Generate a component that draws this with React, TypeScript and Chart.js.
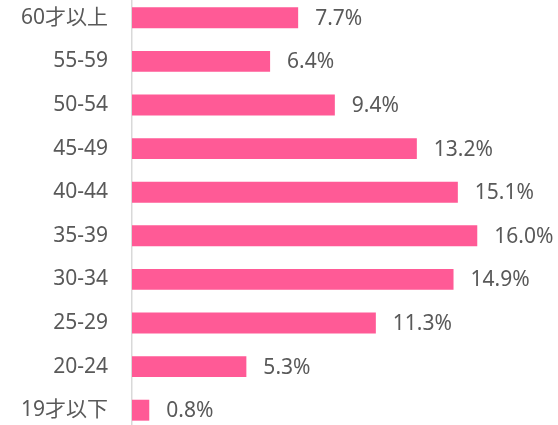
import React, { useEffect, useRef } from "react";
import { Chart, registerables } from "chart.js";

Chart.register(...registerables);

const categories = ["60才以上", "55-59", "50-54", "45-49", "40-44", "35-39", "30-34", "25-29", "20-24", "19才以下"];
const values = [7.7, 6.4, 9.4, 13.2, 15.1, 16.0, 14.9, 11.3, 5.3, 0.8];

const FONT = "'Noto Sans', 'Noto Sans CJK JP', sans-serif";
const TEXT_COLOR = "#595959";

const labelPlugin = {
  id: "barLabels",
  afterDatasetsDraw(chart: any) {
    const ctx = chart.ctx;
    const meta = chart.getDatasetMeta(0);
    ctx.save();
    ctx.font = `21px ${FONT}`;
    ctx.fillStyle = TEXT_COLOR;
    ctx.textAlign = "left";
    ctx.textBaseline = "middle";
    meta.data.forEach((bar: any, i: number) => {
      ctx.fillText(values[i].toFixed(1) + "%", bar.x + 17, bar.y + 1);
    });
    ctx.restore();
  },
};

export default function App() {
  const ref = useRef<HTMLCanvasElement>(null);
  useEffect(() => {
    if (!ref.current) return;
    const chart = new Chart(ref.current, {
      type: "bar",
      data: {
        labels: categories,
        datasets: [
          {
            data: values,
            backgroundColor: "#FF5A96",
            borderWidth: 0,
            barPercentage: 0.48,
            categoryPercentage: 1,
          },
        ],
      },
      options: {
        indexAxis: "y",
        animation: false,
        responsive: false,
        maintainAspectRatio: false,
        layout: { padding: { left: 0, right: 16, top: 0, bottom: 0 } },
        plugins: { legend: { display: false }, tooltip: { enabled: false } },
        scales: {
          x: {
            display: false,
            min: 0,
            max: 19,
          },
          y: {
            grid: { display: false, drawTicks: false },
            border: { display: true, color: "#D9D9D9", width: 1.5 },
            ticks: {
              padding: 24,
              color: TEXT_COLOR,
              font: { family: FONT, size: 21 },
              autoSkip: false,
            },
            afterFit(scale: any) {
              scale.width = 132;
              scale.paddingTop = 0;
              scale.paddingBottom = 0;
            },
          },
        },
      },
      plugins: [labelPlugin],
    });
    return () => chart.destroy();
  }, []);
  return (
    <div style={{ position: "absolute", left: 0, top: -4, width: 558, height: 436 }}>
      <canvas ref={ref} width={558} height={436} style={{ display: "block" }} />
    </div>
  );
}
